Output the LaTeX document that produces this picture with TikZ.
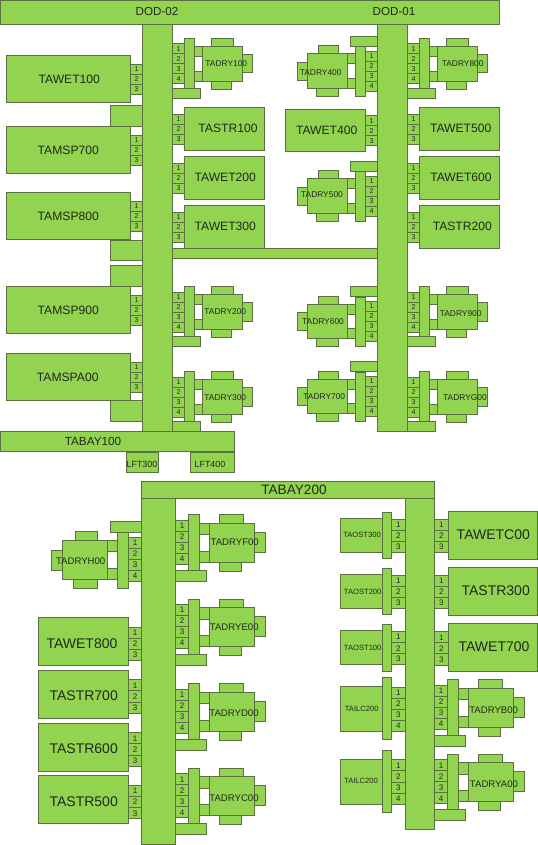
\documentclass[tikz,border=0pt]{standalone}
\usepackage{fontspec}
\setmainfont{Liberation Sans}
\usepackage{xcolor}
\definecolor{platefill}{HTML}{92D450}
\definecolor{plateedge}{HTML}{5A7040}
\definecolor{labeltext}{HTML}{22281E}
\tikzset{
    plate/.style={draw=plateedge, fill=platefill, line width=0.7pt, inner sep=0pt, outer sep=0pt, text=labeltext, font=\fontsize{#1}{#1}\selectfont},
    plate/.default=5.3,
    tag/.style={inner sep=0pt, text=labeltext, font=\fontsize{#1}{#1}\selectfont}
}
% name, x0, y0, x1, y1, text
\newcommand{\plate}[7][5.3]{\node[plate=#1, minimum width={((#5)-(#3))*0.75pt}, minimum height={((#6)-(#4))*0.75pt}] (#2) at ({((#3)+(#5))/2},{((#4)+(#6))/2}) {#7};}
% name, x0, y0, x1, pitch, count, font size
\newcommand{\ports}[7]{\foreach \p in {1,...,#6} {\plate[#7]{#1\p}{#2}{#3+(\p-1)*#5}{#4}{#3+\p*#5}{\p}}}
% upper drier, ports on its left
\newcommand{\dryerR}[3]{\begin{scope}[shift={(#2,#3)}]
\plate{#1a}{194.3}{46.3}{202.7}{56.3}{}
\plate{#1b}{194.3}{71.3}{202.7}{81.3}{}
\plate{#1c}{211.3}{38.3}{233.3}{46.3}{}
\plate{#1d}{211.3}{81.3}{231.7}{89.3}{}
\plate{#1e}{242.7}{54.3}{252.7}{72.7}{}
\plate{#1f}{202.7}{46.3}{242.7}{81.3}{}
\plate{#1g}{184.3}{38.3}{194.3}{88.7}{}
\plate{#1h}{172.7}{88.3}{200.3}{98.3}{}
\ports{#1p}{172.7}{43.7}{184.3}{10}{4}{5.3}
\end{scope}}
% upper drier, ports on its right
\newcommand{\dryerL}[3]{\begin{scope}[shift={(#2,#3)}]
\plate{#1a}{347.3}{53.7}{355.7}{63.7}{}
\plate{#1b}{347.3}{78.3}{355.7}{88.3}{}
\plate{#1c}{318.3}{45.7}{338.3}{53.7}{}
\plate{#1d}{316.7}{88.3}{338.3}{96.3}{}
\plate{#1e}{297.3}{62.3}{307.3}{80.3}{}
\plate{#1f}{307.3}{53.7}{347.3}{88.3}{}
\plate{#1g}{355.7}{46.7}{365.7}{96.3}{}
\plate{#1h}{350}{36.3}{377.3}{46.3}{}
\ports{#1p}{365.7}{51}{377.3}{10}{4}{5.3}
\end{scope}}
% lower drier, larger
\newcommand{\dryerB}[3]{\begin{scope}[shift={(#2,#3)}]
\plate{#1a}{199.7}{523.3}{209.3}{534.7}{}
\plate{#1b}{199.7}{551}{209.3}{562.3}{}
\plate{#1c}{219}{514.7}{243.3}{523.3}{}
\plate{#1d}{219}{562.3}{241.3}{571}{}
\plate{#1e}{254}{532.3}{265.3}{552.3}{}
\plate{#1f}{209.3}{523.3}{254}{562.3}{}
\plate{#1g}{188.3}{514.7}{199.7}{570}{}
\plate{#1h}{175.7}{570.3}{206.3}{581.3}{}
\ports{#1p}{175.7}{520.3}{188.3}{11}{4}{6}
\end{scope}}
\begin{document}
\begin{tikzpicture}[x=0.75pt, y=-0.75pt]
\useasboundingbox (0,0) rectangle (538,845);

% Upper header and trunks
\plate{dod}{0.5}{0.5}{499.5}{24}{}
\plate{trunka}{142.7}{24}{172.7}{431}{}
\plate{trunkb}{377.3}{24}{407.7}{431}{}
\plate{bridge}{172.7}{248.7}{377.3}{258.7}{}
\node[tag=8.7] (dod2) at (157,11.7) {DOD-02};
\node[tag=8.7] (dod1) at (394,11.7) {DOD-01};

% Left of first trunk
\plate{tawet100}{6.7}{55.7}{130.7}{102.3}{}
\ports{tawet100p}{130.7}{64.3}{142.7}{10}{3}{5.3}
\plate{gapa}{110.3}{105.3}{142.7}{126.3}{}
\plate{tamsp700}{6.7}{126.3}{130.7}{173.3}{}
\ports{tamsp700p}{130.7}{135}{142.7}{10}{3}{5.3}
\plate{tamsp800}{6.7}{192.3}{130.7}{239.3}{}
\ports{tamsp800p}{130.7}{201.3}{142.7}{10}{3}{5.3}
\plate{gapb}{110.3}{240}{142.7}{260.3}{}
\plate{gapc}{110.3}{265.3}{142.7}{286}{}
\plate{tamsp900}{6.7}{286.3}{130.7}{333.3}{}
\ports{tamsp900p}{130.7}{295}{142.7}{10}{3}{5.3}
\plate{tamspa00}{6.7}{353.7}{130.7}{400.3}{}
\ports{tamspa00p}{130.7}{362.3}{142.7}{10}{3}{5.3}
\plate{gapd}{110.3}{400.3}{142.7}{421.3}{}
\node[tag=9.1] (tawet100t) at (69.3,79) {TAWET100};
\node[tag=9.1] (tamsp700t) at (68.3,150) {TAMSP700};
\node[tag=9.1] (tamsp800t) at (68.3,216) {TAMSP800};
\node[tag=9.1] (tamsp900t) at (68.3,310) {TAMSP900};
\node[tag=9.1] (tamspa00t) at (67.7,377) {TAMSPA00};

% Right of first trunk
\dryerR{dry100}{0}{0}
\plate{tastr100}{184.3}{107.3}{264.3}{150.3}{}
\ports{tastr100p}{172.7}{114}{184.3}{10}{3}{5.3}
\plate{tawet200}{184.3}{156.3}{264.3}{199.3}{}
\ports{tawet200p}{172.7}{163}{184.3}{10}{3}{5.3}
\plate{tawet300}{184.3}{205.3}{264.3}{248.3}{}
\ports{tawet300p}{172.7}{212.3}{184.3}{10}{3}{5.3}
\dryerR{dry200}{0}{248.3}
\dryerR{dry300}{0}{333.3}
\node[tag=6.3] (dry100t) at (226.3,64) {TADRY100};
\node[tag=6.3] (dry200t) at (225.3,311.3) {TADRY200};
\node[tag=6.3] (dry300t) at (225.3,397.7) {TADRY300};
\node[tag=9.1] (tastr100t) at (228,128) {TASTR100};
\node[tag=9.1] (tawet200t) at (225.3,177) {TAWET200};
\node[tag=9.1] (tawet300t) at (225.3,226.7) {TAWET300};

% Left of second trunk
\dryerL{dry400}{0}{0}
\plate{tawet400}{285.3}{109}{365.7}{151.7}{}
\ports{tawet400p}{365.7}{115.7}{377.3}{10}{3}{5.3}
\dryerL{dry500}{0}{125}
\dryerL{dry600}{0}{250.3}
\dryerL{dry700}{0}{325.3}
\node[tag=6.3] (dry400t) at (320.7,72.3) {TADRY400};
\node[tag=6.3] (dry500t) at (322,195) {TADRY500};
\node[tag=6.3] (dry600t) at (323,321.7) {TADRY600};
\node[tag=6.3] (dry700t) at (324.3,396.7) {TADRY700};
\node[tag=9.1] (tawet400t) at (326.7,130) {TAWET400};

% Right of second trunk
\dryerR{dry800}{235}{0}
\plate{tawet500}{419.3}{107.3}{499.5}{150.3}{}
\ports{tawet500p}{407.7}{114}{419.3}{10}{3}{5.3}
\plate{tawet600}{419.3}{156.3}{499.5}{199.3}{}
\ports{tawet600p}{407.7}{163}{419.3}{10}{3}{5.3}
\plate{tastr200}{419.3}{205.3}{499.5}{248.3}{}
\ports{tastr200p}{407.7}{212.3}{419.3}{10}{3}{5.3}
\dryerR{dry900}{235}{248.3}
\dryerR{dryg00}{235}{333.3}
\node[tag=6.3] (dry800t) at (462.7,64) {TADRY800};
\node[tag=6.3] (dry900t) at (460.7,313.3) {TADRY900};
\node[tag=6.3] (dryg00t) at (465,397.7) {TADRYG00};
\node[tag=9.1] (tawet500t) at (460.7,128) {TAWET500};
\node[tag=9.1] (tawet600t) at (461,177) {TAWET600};
\node[tag=9.1] (tastr200t) at (462.3,226.7) {TASTR200};

% First bay and lifts
\plate{tabay100}{0.5}{431}{234.7}{451.7}{}
\plate{lft300}{126.7}{452}{158.3}{472.3}{}
\plate{lft400}{190.3}{452}{234.7}{472.3}{}
\node[tag=8.8] (tabay100t) at (93,441) {TABAY100};
\node[tag=6.7] (lft300t) at (142,464.3) {LFT300};
\node[tag=6.7] (lft400t) at (210,464.3) {LFT400};

% Lower header and trunks
\plate{tabay200}{141.3}{481.3}{434.3}{498.3}{}
\plate{trunkc}{141.7}{498.3}{175.7}{844.3}{}
\plate{trunkd}{405}{498.3}{434.7}{829.3}{}
\node[tag=10.2] (tabay200t) at (294,489.7) {TABAY200};

% Left of third trunk
\plate{dryhc}{75}{531.3}{97.7}{540.3}{}
\plate{dryhd}{73.3}{579}{97.7}{588.3}{}
\plate{dryhe}{51.3}{550}{62.3}{570}{}
\plate{dryha}{107.3}{540.3}{117.3}{551.7}{}
\plate{dryhb}{107.3}{568}{117.3}{579}{}
\plate{dryhf}{62.3}{540.3}{107.3}{579}{}
\plate{dryhg}{117.3}{532.3}{128.3}{588.3}{}
\plate{dryhh}{110.3}{521.3}{141.7}{532.3}{}
\ports{dryhp}{128.3}{537.3}{141.7}{11.1}{4}{6}
\node[tag=7.2] (dryh00t) at (80.7,560.7) {TADRYH00};
\plate{tawet800}{38.3}{617.7}{128.3}{665.7}{}
\ports{tawet800p}{128.3}{627}{141.7}{11.2}{3}{6}
\plate{tastr700}{38.3}{670.3}{128.3}{718.3}{}
\ports{tastr700p}{128.3}{679.7}{141.7}{11.2}{3}{6}
\plate{tastr600}{38.3}{723}{128.3}{771}{}
\ports{tastr600p}{128.3}{732.7}{141.7}{11.2}{3}{6}
\plate{tastr500}{38.3}{775.7}{128.3}{823.7}{}
\ports{tastr500p}{128.3}{785.3}{141.7}{11.2}{3}{6}
\node[tag=10.5] (tawet800t) at (82,643.3) {TAWET800};
\node[tag=10.5] (tastr700t) at (83.7,696) {TASTR700};
\node[tag=10.5] (tastr600t) at (83.7,748.7) {TASTR600};
\node[tag=10.5] (tastr500t) at (83.7,801.3) {TASTR500};

% Right of third trunk
\dryerB{dryf}{0}{0}
\dryerB{drye}{0}{84.3}
\dryerB{dryd}{0}{169}
\dryerB{dryc}{0}{253.6}
\node[tag=7.2] (dryf00t) at (234.7,542.3) {TADRYF00};
\node[tag=7.2] (drye00t) at (234.3,626.7) {TADRYE00};
\node[tag=7.2] (dryd00t) at (234,713.3) {TADRYD00};
\node[tag=7.2] (dryc00t) at (234,797.7) {TADRYC00};

% Left of fourth trunk
\plate{taost300}{340.3}{518.3}{382.7}{552}{}
\plate{taost300g}{382.7}{512}{391.7}{558.3}{}
\ports{taost300p}{391.7}{519.3}{405}{11}{3}{6}
\plate{taost200}{340.3}{574.7}{382.7}{608.3}{}
\plate{taost200g}{382.7}{568.3}{391.7}{614.7}{}
\ports{taost200p}{391.7}{575.7}{405}{11}{3}{6}
\plate{taost100}{340.3}{630.7}{382.7}{664.3}{}
\plate{taost100g}{382.7}{624.7}{391.7}{671}{}
\ports{taost100p}{391.7}{631.7}{405}{11}{3}{6}
\plate{tailca}{340.3}{686.3}{382.7}{731.7}{}
\plate{tailcag}{382.7}{677.3}{391.7}{739.3}{}
\ports{tailcap}{391.7}{687}{405}{11.2}{4}{6}
\plate{tailcb}{340.3}{759}{382.7}{804.3}{}
\plate{tailcbg}{382.7}{750}{391.7}{812}{}
\ports{tailcbp}{391.7}{759.7}{405}{11.2}{4}{6}
\node[tag=5.7] (taost300t) at (362,535) {TAOST300};
\node[tag=5.7] (taost200t) at (362.7,591.7) {TAOST200};
\node[tag=5.7] (taost100t) at (362.7,648) {TAOST100};
\node[tag=5.7] (tailcat) at (361.7,708.7) {TAILC200};
\node[tag=5.7] (tailcbt) at (361,781) {TAILC200};

% Right of fourth trunk
\plate{tawetc00}{448}{511}{537.7}{559.3}{}
\ports{tawetc00p}{434.7}{519}{448}{11.1}{3}{6}
\plate{tastr300}{448}{567.3}{537.7}{615.3}{}
\ports{tastr300p}{434.7}{575}{448}{11.1}{3}{6}
\plate{tawet700}{448}{623.3}{537.7}{671}{}
\ports{tawet700p}{434.7}{631.7}{448}{11.1}{3}{6}
\dryerB{dryb}{259}{165}
\dryerB{drya}{259}{239.6}
\node[tag=10.5] (tawetc00t) at (493.3,534.3) {TAWETC00};
\node[tag=10.5] (tastr300t) at (495.7,590.7) {TASTR300};
\node[tag=10.5] (tawet700t) at (494,646.7) {TAWET700};
\node[tag=7.2] (dryb00t) at (493.7,709.7) {TADRYB00};
\node[tag=7.2] (drya00t) at (494,784) {TADRYA00};
\end{tikzpicture}
\end{document}
